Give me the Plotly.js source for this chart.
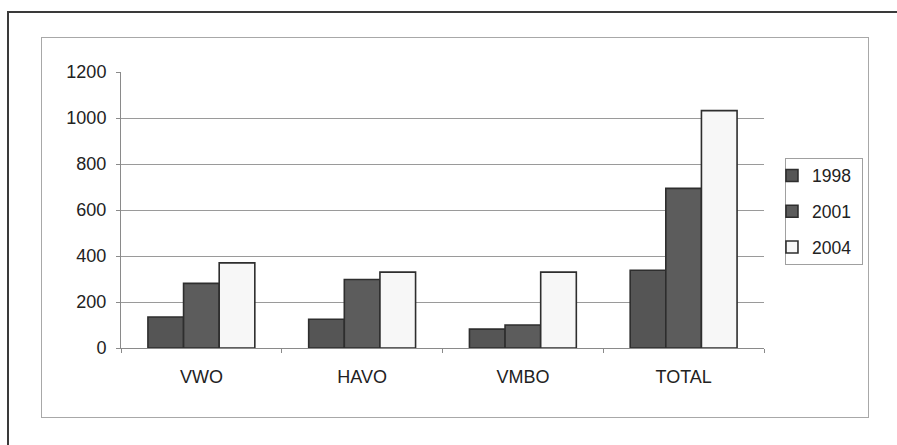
<!DOCTYPE html>
<html>
<head>
<meta charset="utf-8">
<script src="https://cdn.plot.ly/plotly-3.0.1.min.js"></script>
<style>
  html, body { margin: 0; padding: 0; background: #ffffff; overflow: hidden; }
  #wrap { position: relative; width: 897px; height: 445px; overflow: hidden; background: #ffffff; }
  .frame-outer { position: absolute; left: 7px; top: 11px; width: 1000px; height: 600px;
                 border-top: 2px solid #3a3a3a; border-left: 2px solid #3a3a3a; box-sizing: border-box; }
  .frame-inner { position: absolute; left: 41px; top: 37px; width: 828px; height: 381px;
                 border: 1px solid #a8a8a8; box-sizing: border-box; }
  .legend-box { position: absolute; left: 785px; top: 158px; width: 78px; height: 107px;
                border: 1px solid #a0a0a0; box-sizing: border-box; }
  #chart { position: absolute; left: 0; top: 0; width: 897px; height: 445px; }
</style>
</head>
<body>
<div id="wrap">
  <div class="frame-outer"></div>
  <div class="frame-inner"></div>
  <div class="legend-box"></div>
  <div id="chart"></div>
</div>
<script>
  // School types on the category axis
  const categories = ['VWO', 'HAVO', 'VMBO', 'TOTAL'];

  // Values per year
  const years = ['1998', '2001', '2004'];
  const values1998 = [135, 125, 82, 338];
  const values2001 = [281, 298, 100, 694];
  const values2004 = [370, 330, 330, 1032];

  const yTicks = [0, 200, 400, 600, 800, 1000, 1200];

  const fills = ['#555555', '#5c5c5c', '#f7f7f7'];
  const series = [values1998, values2001, values2004];

  const traces = series.map((vals, i) => ({
    type: 'bar',
    name: years[i],
    x: categories,
    y: vals,
    legendgroup: years[i],
    marker: { color: fills[i], line: { color: '#2e2e2e', width: 1.6 } },
    hoverinfo: 'x+y+name'
  }));

  const font = { family: 'Arial, "Liberation Sans", sans-serif', size: 18, color: '#222222' };

  const layout = {
    width: 897,
    height: 445,
    margin: { l: 121, r: 133, t: 72, b: 97, pad: 0 },
    paper_bgcolor: 'rgba(0,0,0,0)',
    plot_bgcolor: 'rgba(0,0,0,0)',
    font: font,
    barmode: 'group',
    bargap: 0.335,
    bargroupgap: 0,
    showlegend: true,
    legend: {
      x: 1.0124, xanchor: 'left',
      y: 0.69, yanchor: 'top',
      bgcolor: 'rgba(0,0,0,0)',
      borderwidth: 0,
      traceorder: 'grouped',
      tracegroupgap: 10,
      font: { family: font.family, size: 17.5, color: '#222222' }
    },
    xaxis: {
      type: 'category',
      showgrid: false,
      showline: true,
      linecolor: '#8a8a8a',
      linewidth: 1,
      ticks: 'outside',
      tickson: 'boundaries',
      ticklen: 4,
      tickcolor: '#8a8a8a',
      ticklabelstandoff: 12,
      tickfont: font,
      zeroline: false,
      fixedrange: true
    },
    yaxis: {
      range: [0, 1200],
      tickvals: yTicks,
      ticktext: yTicks.map(String),
      showgrid: true,
      gridcolor: '#9a9a9a',
      gridwidth: 1,
      showline: true,
      linecolor: '#8a8a8a',
      linewidth: 1,
      ticks: 'outside',
      ticklen: 4,
      tickcolor: '#8a8a8a',
      ticklabelstandoff: 6,
      tickfont: font,
      zeroline: false,
      fixedrange: true
    }
  };

  Plotly.newPlot('chart', traces, layout, { displayModeBar: false, staticPlot: true });
</script>
</body>
</html>
